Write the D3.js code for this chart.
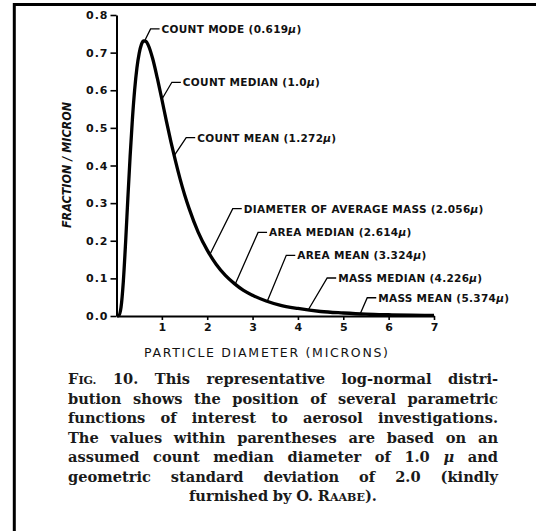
<!DOCTYPE html>
<html>
<head>
<meta charset="utf-8">
<script src="https://cdn.jsdelivr.net/npm/d3@7"></script>
<style>
  html, body { margin: 0; padding: 0; background: #fff; }
  svg { display: block; }
</style>
</head>
<body>
<svg id="chart" width="536" height="531"></svg>
<script>
// curve (particle diameter in microns, fraction per micron)
var diam = [0.02, 0.05, 0.1, 0.15, 0.2, 0.25, 0.3, 0.35, 0.4, 0.45, 0.5, 0.55, 0.6, 0.65, 0.7, 0.8, 0.9, 1.0,
            1.1, 1.2, 1.3, 1.4, 1.5, 1.6, 1.8, 2.0, 2.2, 2.4, 2.6, 2.8, 3.0, 3.3, 3.6, 4.0, 4.5, 5.0, 5.5, 6.0, 6.5, 7.0];
var frac = [0.0, 0.001, 0.023, 0.091, 0.194, 0.312, 0.424, 0.522, 0.601, 0.659, 0.698, 0.722, 0.731, 0.730, 0.720, 0.683, 0.632, 0.576,
            0.518, 0.463, 0.412, 0.365, 0.323, 0.286, 0.223, 0.175, 0.137, 0.108, 0.086, 0.068, 0.055, 0.040, 0.029, 0.020, 0.012, 0.008, 0.005, 0.0034, 0.0023, 0.0016];

// marked parametric diameters
var markerNames = ["COUNT MODE", "COUNT MEDIAN", "COUNT MEAN", "DIAMETER OF AVERAGE MASS",
                   "AREA MEDIAN", "AREA MEAN", "MASS MEDIAN", "MASS MEAN"];
var markerDiam = [0.619, 1.0, 1.272, 2.056, 2.614, 3.324, 4.226, 5.374];
var markerFrac = [0.731, 0.576, 0.426, 0.163, 0.084, 0.039, 0.016, 0.006];

var xTicks = [1, 2, 3, 4, 5, 6, 7];
var yTicks = [0, 0.1, 0.2, 0.3, 0.4, 0.5, 0.6, 0.7, 0.8];

var xTitle = "PARTICLE DIAMETER (MICRONS)";
var yTitle = "FRACTION / MICRON";

var captionLines = [
  "Fig. 10. This representative log-normal distri-",
  "bution shows the position of several parametric",
  "functions of interest to aerosol investigations.",
  "The values within parentheses are based on an",
  "assumed count median diameter of 1.0 \u03bc and",
  "geometric standard deviation of 2.0 (kindly",
  "furnished by O. Raabe)."
];

// leader knee offsets from the curve point (px) -- layout only
var leaderOff = [[6, -12], [10, -17], [12, -18], [23, -46], [23, -52], [19, -46], [19, -32], [7, -16]];

var svg = d3.select("#chart");

// frame (top and left rule)
svg.append("line").attr("x1", 13).attr("x2", 536).attr("y1", 4.5).attr("y2", 4.5)
    .attr("stroke", "#000").attr("stroke-width", 3);
svg.append("line").attr("x1", 14.3).attr("x2", 14.3).attr("y1", 3).attr("y2", 531)
    .attr("stroke", "#000").attr("stroke-width", 3);

var x = d3.scaleLinear().domain([0, 7]).range([116.5, 434]);
var y = d3.scaleLinear().domain([0, 0.8]).range([316, 15]);

var tickFont = "'DejaVu Sans', sans-serif";

var gy = svg.append("g").attr("transform", "translate(" + x(0) + ",0)")
    .call(d3.axisLeft(y).tickValues(yTicks).tickFormat(d3.format(".1f"))
        .tickSize(6).tickSizeOuter(0).tickPadding(2));
gy.select(".domain").attr("stroke-width", 2);
gy.selectAll(".tick line").attr("stroke-width", 1.6);
gy.selectAll(".tick text").attr("font-family", tickFont).attr("font-weight", "bold")
    .attr("font-size", 11).style("letter-spacing", "1px").attr("fill", "#111");

var gx = svg.append("g").attr("transform", "translate(0," + y(0) + ")")
    .call(d3.axisBottom(x).tickValues(xTicks).tickFormat(d3.format("d"))
        .tickSize(4).tickSizeOuter(0).tickPadding(3));
gx.select(".domain").attr("stroke-width", 2);
gx.selectAll(".tick line").attr("stroke-width", 1.6);
gx.selectAll(".tick text").attr("font-family", tickFont).attr("font-weight", "bold")
    .attr("font-size", 11).attr("fill", "#111");

// axis titles
svg.append("text")
    .attr("x", 266).attr("y", 357)
    .attr("text-anchor", "middle")
    .attr("font-family", tickFont).attr("font-size", 12.5)
    .attr("textLength", 244).attr("lengthAdjust", "spacing")
    .attr("fill", "#111")
    .text(xTitle);

svg.append("text")
    .attr("transform", "translate(66,165) rotate(-90)")
    .attr("text-anchor", "middle").attr("dominant-baseline", "central")
    .attr("font-family", tickFont).attr("font-size", 13)
    .attr("font-style", "italic").attr("font-weight", "bold")
    .attr("textLength", 126).attr("lengthAdjust", "spacingAndGlyphs")
    .attr("fill", "#111")
    .text(yTitle);

// the distribution curve
var pts = diam.map(function(d, i) { return [d, frac[i]]; });
var line = d3.line()
    .x(function(d) { return x(d[0]); })
    .y(function(d) { return y(d[1]); })
    .curve(d3.curveMonotoneX);

svg.append("path")
    .datum(pts)
    .attr("d", line)
    .attr("fill", "none")
    .attr("stroke", "#000")
    .attr("stroke-width", 3.3)
    .attr("stroke-linejoin", "round");

// leaders and labels
var fmt = function(d) { return Number.isInteger(d) ? d.toFixed(1) : String(d); };

markerNames.forEach(function(name, i) {
    var cx = x(markerDiam[i]), cy = y(markerFrac[i]);
    var kx = cx + leaderOff[i][0], ky = cy + leaderOff[i][1];
    svg.append("path")
        .attr("d", "M" + cx + "," + cy + "L" + kx + "," + ky + "L" + (kx + 9) + "," + ky)
        .attr("fill", "none").attr("stroke", "#000").attr("stroke-width", 1.3);
    var t = svg.append("text")
        .attr("x", kx + 11).attr("y", ky)
        .attr("dominant-baseline", "central")
        .attr("font-family", tickFont).attr("font-weight", "bold")
        .attr("font-size", 10.5).style("letter-spacing", "0.3px")
        .attr("fill", "#111");
    t.append("tspan").text(name + " (" + fmt(markerDiam[i]));
    t.append("tspan").attr("font-style", "italic").text("\u03bc");
    t.append("tspan").text(")");
});

// caption, justified
var capFont = "'DejaVu Serif', serif";
var capSize = 14.6, capLeft = 68, capRight = 498, capTop = 384, capLead = 19.5;
var smallCaps = { "Fig.": ["F", "IG."], "Raabe).": ["R", "AABE", ")."] };

function addWord(g, w) {
    var t = g.append("text")
        .attr("font-family", capFont).attr("font-weight", "bold")
        .attr("font-size", capSize).attr("fill", "#1a1a1a");
    if (smallCaps[w]) {
        var parts = smallCaps[w];
        t.append("tspan").text(parts[0]);
        t.append("tspan").attr("font-size", capSize * 0.76).text(parts[1]);
        if (parts[2]) t.append("tspan").text(parts[2]);
    } else if (w === "\u03bc") {
        t.attr("font-style", "italic").text(w);
    } else {
        t.text(w);
    }
    return t;
}

captionLines.forEach(function(ln, li) {
    var g = svg.append("g");
    var words = ln.split(" ");
    var texts = words.map(function(w) { return addWord(g, w); });
    var widths = texts.map(function(t) { return t.node().getComputedTextLength(); });
    var total = d3.sum(widths);
    var yy = capTop + li * capLead;
    var last = li === captionLines.length - 1;
    var gap, xx;
    if (last) {
        gap = capSize * 0.32;
        xx = (capLeft + capRight) / 2 - (total + gap * (words.length - 1)) / 2;
    } else {
        gap = (capRight - capLeft - total) / (words.length - 1);
        xx = capLeft;
    }
    texts.forEach(function(t, k) {
        t.attr("x", xx).attr("y", yy);
        xx += widths[k] + gap;
    });
});
</script>
</body>
</html>
